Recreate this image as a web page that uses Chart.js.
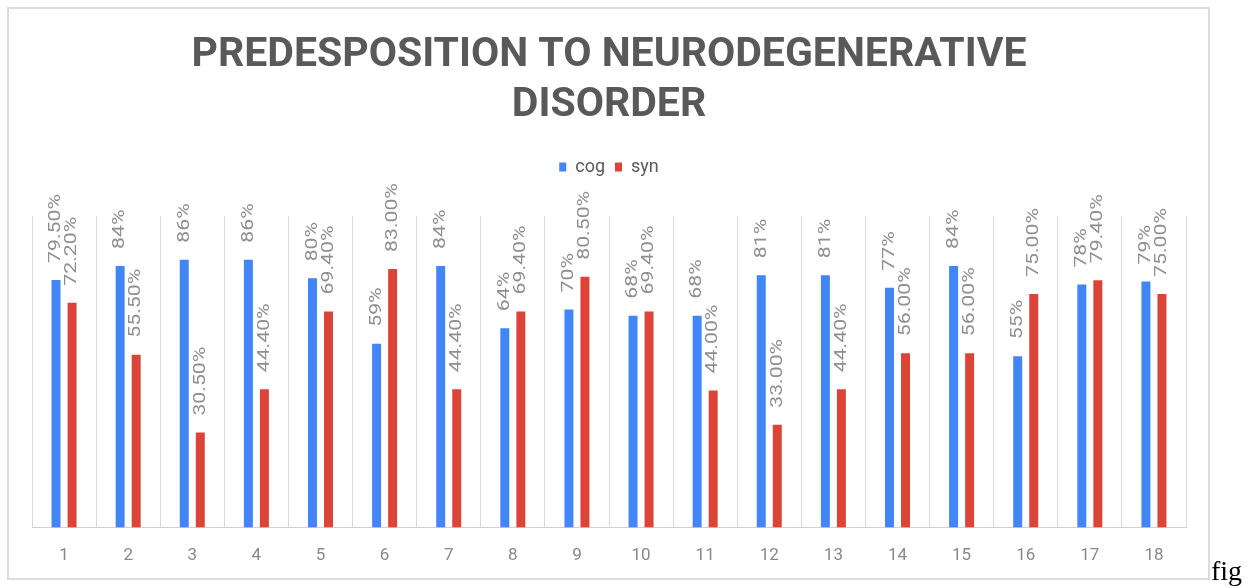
<!DOCTYPE html>
<html><head><meta charset="utf-8">
<script src="https://cdn.jsdelivr.net/npm/chart.js@4.4.1/dist/chart.umd.min.js"></script>
<style>
html,body{margin:0;padding:0;background:#fff;width:1250px;height:588px;overflow:hidden;}
#frame{position:absolute;left:7px;top:7px;width:1199px;height:569px;border:2px solid #dcdcdc;}
#wrap{position:absolute;left:0;top:0;width:1250px;height:588px;}
#fig{position:absolute;left:1211px;top:557px;font-family:"Liberation Serif","Times New Roman",serif;font-size:28px;line-height:1;color:#000;}
</style></head>
<body>
<div id="frame"></div>
<div id="wrap"><canvas id="c" width="1250" height="588" style="width:1250px;height:588px"></canvas></div>
<div id="fig">fig</div>
<script>
const categories = ['1','2','3','4','5','6','7','8','9','10','11','12','13','14','15','16','17','18'];
const seriesNames = ['cog','syn'];
const cogValues = [79.5,84,86,86,80,59,84,64,70,68,68,81,81,77,84,55,78,79];
const synValues = [72.2,55.5,30.5,44.4,69.4,83.0,44.4,69.4,80.5,69.4,44.0,33.0,44.4,56.0,56.0,75.0,79.4,75.0];
const cogLabels = ['79.50%','84%','86%','86%','80%','59%','84%','64%','70%','68%','68%','81%','81%','77%','84%','55%','78%','79%'];
const synLabels = ['72.20%','55.50%','30.50%','44.40%','69.40%','83.00%','44.40%','69.40%','80.50%','69.40%','44.00%','33.00%','44.40%','56.00%','56.00%','75.00%','79.40%','75.00%'];
const titleLines = ['PREDESPOSITION TO NEURODEGENERATIVE','DISORDER'];
const yTicks = {min:0, max:100};

const valueLabels = [cogLabels, synLabels];

const legendSpacer = {
  id:'legendSpacer',
  beforeInit(chart){
    const fit = chart.legend.fit;
    chart.legend.fit = function(){ fit.call(this); this.height += 30; };
  }
};

const barLabels = {
  id:'barLabels',
  afterDatasetsDraw(chart){
    const ctx = chart.ctx;
    chart.data.datasets.forEach((ds,i)=>{
      const meta = chart.getDatasetMeta(i);
      meta.data.forEach((bar,j)=>{
        ctx.save();
        ctx.translate(bar.x, bar.y - 17);
        ctx.rotate(-Math.PI/2);
        ctx.scale(1.25,1);
        ctx.font = '17px Roboto';
        ctx.fillStyle = '#8f8f8f';
        ctx.textAlign = 'left';
        ctx.textBaseline = 'middle';
        ctx.fillText(valueLabels[i][j], 0, 0);
        ctx.restore();
      });
    });
  }
};

new Chart(document.getElementById('c'), {
  type:'bar',
  data:{
    labels: categories,
    datasets:[
      {label: seriesNames[0], data: cogValues, backgroundColor:'#4285f4', categoryPercentage:0.5, barPercentage:0.56},
      {label: seriesNames[1], data: synValues, backgroundColor:'#db4437', categoryPercentage:0.5, barPercentage:0.56}
    ]
  },
  options:{
    responsive:false,
    animation:false,
    layout:{padding:{left:32,right:64,top:0,bottom:4}},
    plugins:{
      title:{display:true, text:titleLines, color:'#595959', font:{family:'Roboto', size:41, weight:'bold', lineHeight:1.22}, padding:{top:31,bottom:17}},
      legend:{display:true, position:'top', labels:{boxWidth:7, boxHeight:9, color:'#595959', font:{family:'Roboto', size:18}, padding:10}},
      tooltip:{enabled:false}
    },
    scales:{
      x:{
        grid:{display:true, drawTicks:false, color:'#d9d9d9', lineWidth:1, offset:true},
        border:{display:true, color:'#d0d0d0'},
        ticks:{color:'#888888', font:{family:'Roboto', size:17}, padding:18}
      },
      y:{display:false, min:yTicks.min, max:yTicks.max}
    }
  },
  plugins:[legendSpacer, barLabels]
});
</script>
</body></html>
